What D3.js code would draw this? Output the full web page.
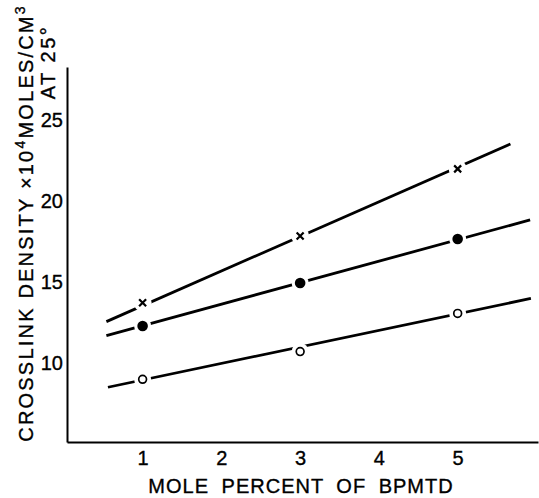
<!DOCTYPE html>
<html>
<head>
<meta charset="utf-8">
<script src="https://cdn.jsdelivr.net/npm/d3@7"></script>
<style>
  body { margin: 0; background: #fff; }
  svg { display: block; }
  text { font-family: "Liberation Sans", "DejaVu Sans", sans-serif; fill: #000; stroke: #000; stroke-width: 0.35px; }
</style>
</head>
<body>
<div id="chart"></div>
<script>
// mole percent of BPMTD where points were measured
const molePct = [1, 3, 5];
// crosslink density (x10^4 moles/cm3 at 25 deg)
const crossVals  = [13.72, 17.84, 21.98];
const filledVals = [12.28, 14.94, 17.65];
const openVals   = [8.99, 10.70, 13.06];
// end points of the drawn straight lines
const crossLine  = [[0.54, 12.55], [5.67, 23.52]];
const filledLine = [[0.54, 11.69], [5.92, 18.83]];
const openLine   = [[0.56, 8.50], [5.93, 13.98]];

const xTicks = [1, 2, 3, 4, 5];
const yTicks = [10, 15, 20, 25];

const width = 539, height = 498;

const svg = d3.select("#chart").append("svg")
    .attr("width", width)
    .attr("height", height);

const x = d3.scaleLinear().domain([0.04, 6.02]).range([67, 538]);
const y = d3.scaleLinear().domain([5.12, 28.27]).range([442, 67]);

// axes
const xAxis = svg.append("g")
    .attr("transform", `translate(0,${y.range()[0]})`)
    .call(d3.axisBottom(x).tickValues(xTicks).tickSize(0).tickPadding(9).tickFormat(d3.format("d")));
xAxis.select(".domain").attr("stroke", "#000").attr("stroke-width", 2);
xAxis.selectAll("text").style("font-size", "20px").attr("font-family", null);

const yAxis = svg.append("g")
    .attr("transform", `translate(${x.range()[0]},0)`)
    .call(d3.axisLeft(y).tickValues(yTicks).tickSize(0).tickPadding(4));
yAxis.select(".domain").attr("stroke", "#000").attr("stroke-width", 2);
yAxis.selectAll("text").style("font-size", "20px").attr("font-family", null);

// fitted lines
const line = d3.line().x(d => x(d[0])).y(d => y(d[1]));
[crossLine, filledLine, openLine].forEach(l => {
    svg.append("path")
        .attr("d", line(l))
        .attr("fill", "none")
        .attr("stroke", "#000")
        .attr("stroke-width", 2.8);
});

// white halo so the line breaks around each marker
function halos(vals, r) {
    svg.append("g").selectAll("circle")
        .data(vals)
        .enter()
        .append("circle")
        .attr("cx", (d, i) => x(molePct[i]))
        .attr("cy", d => y(d))
        .attr("r", r)
        .attr("fill", "#fff");
}
halos(crossVals, 9);
halos(filledVals, 8.5);
halos(openVals, 8.5);

// crosses
svg.append("g").selectAll("path")
    .data(crossVals)
    .enter()
    .append("path")
    .attr("d", (d, i) => {
        const cx = x(molePct[i]), cy = y(d), s = 3.5;
        return `M${cx - s},${cy - s}L${cx + s},${cy + s}M${cx - s},${cy + s}L${cx + s},${cy - s}`;
    })
    .attr("stroke", "#000")
    .attr("stroke-width", 2.2);

// filled dots
svg.append("g").selectAll("circle")
    .data(filledVals)
    .enter()
    .append("circle")
    .attr("cx", (d, i) => x(molePct[i]))
    .attr("cy", d => y(d))
    .attr("r", 5.3)
    .attr("fill", "#000");

// open dots
svg.append("g").selectAll("circle")
    .data(openVals)
    .enter()
    .append("circle")
    .attr("cx", (d, i) => x(molePct[i]))
    .attr("cy", d => y(d))
    .attr("r", 3.9)
    .attr("fill", "#fff")
    .attr("stroke", "#000")
    .attr("stroke-width", 1.7);

// axis titles
svg.append("text")
    .attr("x", 301)
    .attr("y", 493)
    .attr("text-anchor", "middle")
    .style("font-size", "20px")
    .style("letter-spacing", "1px")
    .style("word-spacing", "6px")
    .text("MOLE PERCENT OF BPMTD");

const yTitle = svg.append("text")
    .attr("transform", "translate(33,223) rotate(-90)")
    .attr("text-anchor", "middle")
    .style("font-size", "20px")
    .style("letter-spacing", "2.2px");
yTitle.append("tspan").text("CROSSLINK DENSITY \u00d710");
yTitle.append("tspan").attr("dy", -8).style("font-size", "14px").text("4");
yTitle.append("tspan").attr("dy", 8).text("MOLES/CM");
yTitle.append("tspan").attr("dy", -8).style("font-size", "14px").text("3");

svg.append("text")
    .attr("transform", "translate(55,62) rotate(-90)")
    .attr("text-anchor", "middle")
    .style("font-size", "20px")
    .style("letter-spacing", "2.5px")
    .text("AT 25\u00b0");
</script>
</body>
</html>
